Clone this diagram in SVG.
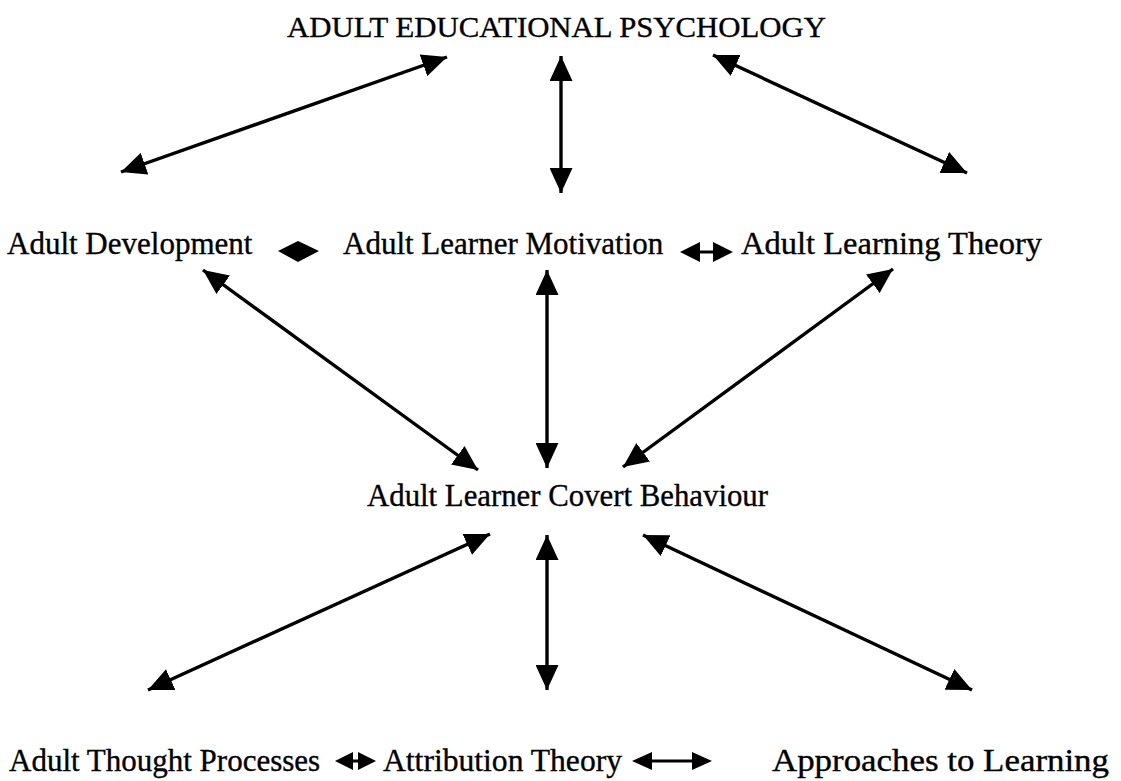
<svg xmlns="http://www.w3.org/2000/svg" width="1121" height="781" viewBox="0 0 1121 781">
  <style>
    .lbl { font-family: "Liberation Serif", "Times New Roman", serif; font-size: 31px; fill: #000; stroke: #000; stroke-width: 0.35; }
    .ttl { font-family: "Liberation Serif", "Times New Roman", serif; font-size: 30px; fill: #000; stroke: #000; stroke-width: 0.35; }
    .conn { stroke: #000; stroke-width: 3.4; fill: none; marker-start: url(#head); marker-end: url(#head); }
    .tri { fill: #000; stroke: none; }
    .stub { stroke: #000; stroke-width: 3; }
  </style>
  <defs>
    <marker id="head" markerUnits="userSpaceOnUse" markerWidth="25" markerHeight="23" refX="25" refY="11.5" orient="auto-start-reverse">
      <path d="M0,0 L25,11.5 L0,23 z" fill="#000"/>
    </marker>
  </defs>
  <rect width="1121" height="781" fill="#fff"/>

  <!-- concept labels -->
  <g id="node-aep"><text class="ttl" x="287" y="37" textLength="539" lengthAdjust="spacingAndGlyphs">ADULT EDUCATIONAL PSYCHOLOGY</text></g>
  <g id="node-dev"><text class="lbl" x="7" y="254">Adult Development</text></g>
  <g id="node-mot"><text class="lbl" x="343" y="254">Adult Learner Motivation</text></g>
  <g id="node-alt"><text class="lbl" x="741" y="254" textLength="301" lengthAdjust="spacingAndGlyphs">Adult Learning Theory</text></g>
  <g id="node-covert"><text class="lbl" x="367" y="506" textLength="401" lengthAdjust="spacingAndGlyphs">Adult Learner Covert Behaviour</text></g>
  <g id="node-thought"><text class="lbl" x="9" y="771">Adult Thought Processes</text></g>
  <g id="node-attr"><text class="lbl" x="383" y="771" textLength="239" lengthAdjust="spacingAndGlyphs">Attribution Theory</text></g>
  <g id="node-appr"><text class="lbl" x="772" y="771" textLength="337" lengthAdjust="spacingAndGlyphs">Approaches to Learning</text></g>

  <!-- two-way links -->
  <g id="connectors">
    <line class="conn" x1="121" y1="172" x2="447" y2="57"/>
    <line class="conn" x1="561" y1="56" x2="561" y2="193"/>
    <line class="conn" x1="713" y1="55" x2="967" y2="173"/>

    <line class="conn" x1="203" y1="270" x2="478" y2="470"/>
    <line class="conn" x1="547" y1="270" x2="547" y2="468"/>
    <line class="conn" x1="893" y1="269" x2="623" y2="467"/>

    <line class="conn" x1="148" y1="690" x2="490" y2="534"/>
    <line class="conn" x1="547" y1="535" x2="547" y2="690"/>
    <line class="conn" x1="643" y1="535" x2="972" y2="690"/>

    <!-- short inline arrows between neighbouring labels -->
    <polygon class="tri" points="278,251 298,241 319,251 298,262"/>

    <polygon class="tri" points="680,252 700,242 700,262"/>
    <line class="stub" x1="699" y1="252" x2="714" y2="252"/>
    <polygon class="tri" points="733,252 713,242 713,262"/>

    <polygon class="tri" points="335,761 353,752 353,770"/>
    <line class="stub" x1="352" y1="761" x2="358" y2="761"/>
    <polygon class="tri" points="376,761 358,752 358,770"/>

    <polygon class="tri" points="632,761 652,752 652,770"/>
    <line class="stub" x1="651" y1="761" x2="693" y2="761"/>
    <polygon class="tri" points="712,761 692,752 692,770"/>
  </g>
</svg>
